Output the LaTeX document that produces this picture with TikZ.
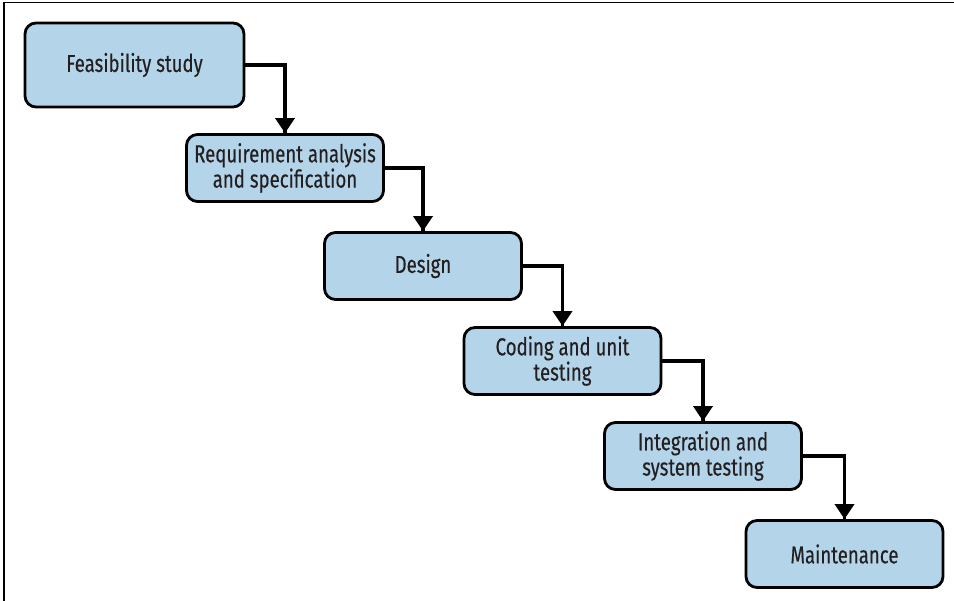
\documentclass[tikz,border=0pt]{standalone}
\usepackage{fontspec}
\setmainfont[FakeStretch=0.76,FakeBold=0.3]{Fira Sans}
\usetikzlibrary{arrows.meta}
\usetikzlibrary{decorations.markings}
\definecolor{stagefill}{RGB}{180,212,234}
\definecolor{stagetext}{RGB}{35,31,32}

\begin{document}
\begin{tikzpicture}[x=1pt,y=-1pt,
    stage/.style={draw=black, line width=2.8pt, fill=stagefill,
      rounded corners=11pt, minimum width=197pt, minimum height=67pt,
      align=center, inner sep=0pt, text=stagetext,
      font=\fontsize{24.5}{20.5}\selectfont},
    flow/.style={line width=3.6pt,
      decoration={markings,mark=at position 1 with {\arrow{Triangle[width=19pt,length=15pt]}}},
      postaction={decorate}}
  ]
      \useasboundingbox (0,0) rectangle (954,601);
      % frame
      \draw[line width=1.3pt] (4,601) -- (4,2.3) -- (954,2.3);

      \node[stage, minimum width=219pt, minimum height=84pt] (feas) at (134.5,65) {Feasibility study};
      \node[stage] (req) at (285,168) {Requirement analysis\\and specification};
      \node[stage] (des) at (423,266) {Design};
      \node[stage] (cod) at (562.5,361) {Coding and unit\\testing};
      \node[stage] (int) at (703,456) {Integration and\\system testing};
      \node[stage] (mnt) at (844.5,554) {Maintenance};

      \foreach \from/\to in {feas/req,req/des,des/cod,cod/int,int/mnt}
        \draw[flow] (\from.east) -| (\to.north);
    \end{tikzpicture}
\end{document}
